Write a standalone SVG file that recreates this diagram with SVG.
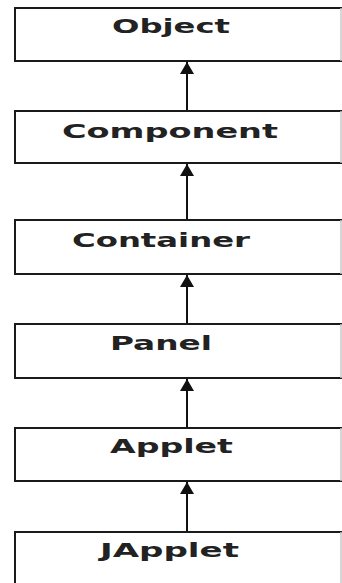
<svg xmlns="http://www.w3.org/2000/svg" width="342" height="583" viewBox="0 0 342 583">
<style>
.box{fill:#fff;stroke:none}
.edge{fill:none;stroke:#1a1a1a;stroke-width:2}
.redge{fill:none;stroke:#c8c8c8;stroke-width:1.5}
.lbl{font-family:"DejaVu Sans",Verdana,sans-serif;font-weight:bold;font-size:19px;fill:#222}
.conn{stroke:#111;stroke-width:2;fill:none}
</style>
<defs>
<marker id="ah" viewBox="0 0 12 14" refX="12" refY="7" markerWidth="12" markerHeight="14" markerUnits="userSpaceOnUse" orient="auto">
<path d="M0,0 L12,7 L0,14 Z" fill="#111"/>
</marker>
</defs>
<rect width="342" height="583" fill="#fff"/>
<g id="object">
<rect class="box" x="15" y="8" width="326" height="53"/>
<path class="edge" d="M342,8 H15 V61 H342"/>
<line class="redge" x1="341" y1="8" x2="341" y2="61"/>
<text class="lbl" x="112" y="33" textLength="118" lengthAdjust="spacingAndGlyphs">Object</text>
</g>
<g id="component">
<rect class="box" x="15" y="111" width="326" height="52"/>
<path class="edge" d="M342,111 H15 V163 H342"/>
<line class="redge" x1="341" y1="111" x2="341" y2="163"/>
<text class="lbl" x="62" y="138" textLength="216" lengthAdjust="spacingAndGlyphs">Component</text>
</g>
<g id="container">
<rect class="box" x="15" y="220" width="326" height="54"/>
<path class="edge" d="M342,220 H15 V274 H342"/>
<line class="redge" x1="341" y1="220" x2="341" y2="274"/>
<text class="lbl" x="72" y="247" textLength="178" lengthAdjust="spacingAndGlyphs">Container</text>
</g>
<g id="panel">
<rect class="box" x="15" y="324" width="326" height="54"/>
<path class="edge" d="M342,324 H15 V378 H342"/>
<line class="redge" x1="341" y1="324" x2="341" y2="378"/>
<text class="lbl" x="110" y="350" textLength="102" lengthAdjust="spacingAndGlyphs">Panel</text>
</g>
<g id="applet">
<rect class="box" x="15" y="428" width="326" height="53"/>
<path class="edge" d="M342,428 H15 V481 H342"/>
<line class="redge" x1="341" y1="428" x2="341" y2="481"/>
<text class="lbl" x="110" y="453" textLength="123" lengthAdjust="spacingAndGlyphs">Applet</text>
</g>
<g id="japplet">
<rect class="box" x="15" y="532" width="326" height="60"/>
<path class="edge" d="M342,532 H15 V592"/>
<line class="redge" x1="341" y1="532" x2="341" y2="592"/>
<text class="lbl" x="100" y="557" textLength="139" lengthAdjust="spacingAndGlyphs">JApplet</text>
</g>
<g id="connectors">
<line class="conn" x1="187" y1="110" x2="187" y2="62" marker-end="url(#ah)"/>
<line class="conn" x1="187" y1="219" x2="187" y2="164" marker-end="url(#ah)"/>
<line class="conn" x1="187" y1="323" x2="187" y2="275" marker-end="url(#ah)"/>
<line class="conn" x1="187" y1="427" x2="187" y2="379" marker-end="url(#ah)"/>
<line class="conn" x1="187" y1="531" x2="187" y2="482" marker-end="url(#ah)"/>
</g>
</svg>
